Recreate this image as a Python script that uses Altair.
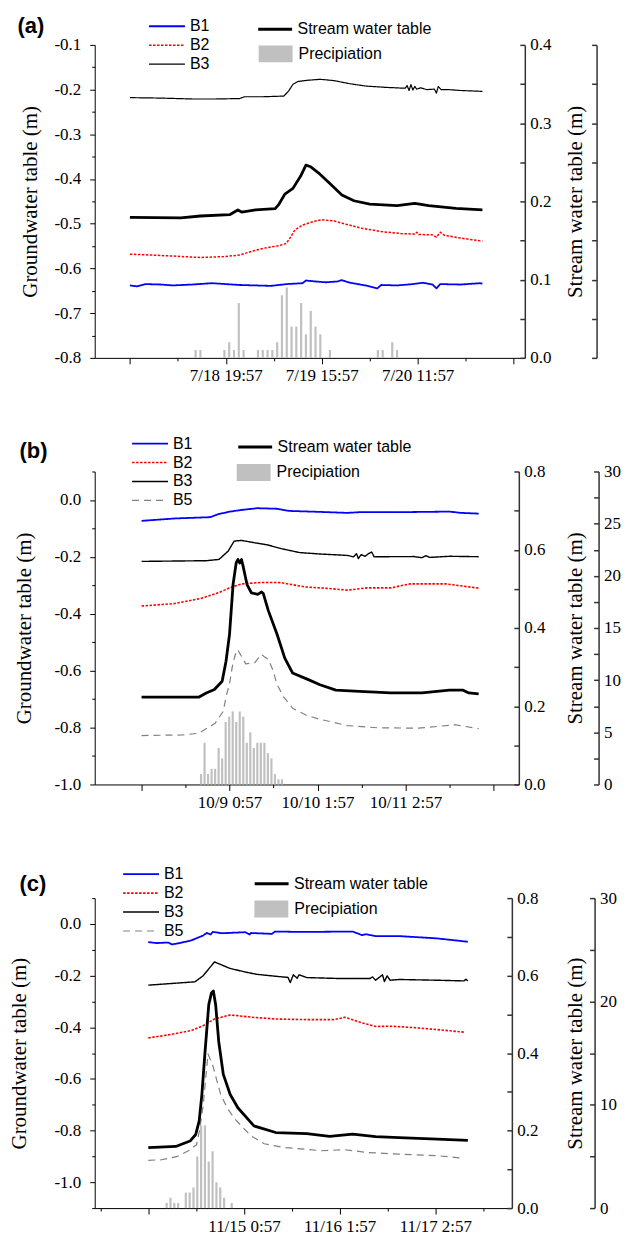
import altair as alt
import pandas as pd

SERIF = "Liberation Serif"
SANS = "Liberation Sans"
RIGHT_AXIS_COLOR = "#333333"

SERIES = ["B1", "B2", "B3", "B5"]
SERIES_COLORS = ["#0000ff", "#ff0000", "#000000", "#808080"]
SERIES_DASHES = [[1, 0], [2.5, 1.5], [1, 0], [7, 5]]
SERIES_WIDTHS = [1.8, 1.2, 1.1, 1.6]
STREAM_NAME = "Stream water table"
RAIN_NAME = "Precipiation"
GW_TITLE = "Groundwater table (m)"
STREAM_TITLE = "Stream water table (m)"
PANEL_LABELS = ["(a)", "(b)", "(c)"]

# ---------------- panel (a) : hours relative to 7/18 19:57 ----------------
A_X_LABEL_HOURS = [0, 20, 40]
A_X_LABELS = ["7/18 19:57", "7/19 15:57", "7/20 11:57"]
A_B1_H = [-20, -18.5, -16.8, -13.5, -11.1, -7.0, -2.9, 2.9, 9.4, 12.7, 16.0, 16.7, 18.5, 20.9,
          23.4, 24.1, 25.9, 29.1, 31.6, 32.4, 35.7, 39.0, 41.1, 43.1, 43.9, 44.7, 48.9, 53.0, 53.5]
A_B1_V = [-0.638, -0.640, -0.635, -0.636, -0.638, -0.636, -0.633, -0.637, -0.639, -0.635, -0.633,
          -0.627, -0.629, -0.631, -0.629, -0.626, -0.632, -0.638, -0.6445, -0.637, -0.638, -0.635,
          -0.632, -0.636, -0.6445, -0.635, -0.636, -0.633, -0.634]
A_B2_H = [-20, -13.5, -5.3, -0.4, 2.9, 5.3, 7.8, 11.1, 12.6, 13.5, 14.4, 16.0, 18.5, 20.1, 22.6,
          25.0, 28.3, 32.4, 36.5, 39.4, 39.8, 40.2, 43.1, 43.9, 44.7, 45.6, 48.9, 53.5]
A_B2_V = [-0.568, -0.571, -0.5755, -0.5735, -0.570, -0.562, -0.555, -0.549, -0.544, -0.530, -0.514,
          -0.503, -0.4945, -0.491, -0.494, -0.501, -0.510, -0.5175, -0.522, -0.523, -0.519, -0.524,
          -0.525, -0.530, -0.519, -0.526, -0.532, -0.539]
A_B3_H = [-20, -13.5, -7.0, -2.1, 2.9, 3.9, 7.8, 12.1, 13.1, 14.0, 15.0, 17.2, 19.7, 22.6, 25.9,
          29.1, 33.3, 37.4, 37.8, 38.2, 38.6, 39.0, 39.4, 39.8, 40.6, 41.9, 43.5, 43.9, 44.3, 44.9,
          46.4, 48.9, 53.5]
A_B3_V = [-0.218, -0.219, -0.221, -0.221, -0.220, -0.216, -0.216, -0.2145, -0.203, -0.188, -0.182,
          -0.179, -0.177, -0.180, -0.187, -0.192, -0.195, -0.197, -0.191, -0.202, -0.189, -0.201,
          -0.193, -0.199, -0.196, -0.200, -0.199, -0.208, -0.193, -0.200, -0.200, -0.202, -0.204]
A_STREAM_H = [-20, -9.4, -5.3, 0.8, 2.5, 3.3, 6.2, 10.3, 11.1, 12.3, 14.0, 15.6, 16.7, 17.7, 19.3,
              21.8, 24.2, 26.7, 30.0, 35.7, 39.4, 42.3, 48.0, 53.5]
A_STREAM_V = [0.1796, 0.1788, 0.1813, 0.183, 0.189, 0.1864, 0.189, 0.1907, 0.1966, 0.2093, 0.2166,
              0.2323, 0.2463, 0.2442, 0.2365, 0.2221, 0.2081, 0.2008, 0.1966, 0.1945, 0.1975,
              0.1945, 0.191, 0.189]
A_RAIN_H = [-6.3, -5.3, -0.3, 0.7, 1.7, 2.7, 3.7, 6.7, 7.7, 8.7, 9.7, 10.7, 11.7, 12.7, 13.7, 14.7,
            15.7, 16.7, 17.7, 18.7, 19.7, 21.7, 31.7, 32.7, 34.7, 35.7]
A_RAIN_V = [0.2, 0.2, 0.2, 0.4, 0.2, 1.4, 0.2, 0.2, 0.2, 0.2, 0.2, 0.4, 1.6, 1.8, 0.8, 0.8, 1.4, 0.6,
            1.2, 0.8, 0.6, 0.2, 0.2, 0.2, 0.4, 0.2]

# ---------------- panel (b) : hours relative to 10/9 0:57 ----------------
B_X_LABEL_HOURS = [0, 25, 50]
B_X_LABELS = ["10/9 0:57", "10/10 1:57", "10/11 2:57"]
B_B1_H = [-25, -15.5, -5.5, -3.2, 0.1, 3.5, 7.9, 13.5, 16.8, 25.7, 33.5, 36.9, 48.0, 62.5, 65.8, 70.8]
B_B1_V = [-0.0735, -0.065, -0.0606, -0.050, -0.041, -0.035, -0.029, -0.031, -0.0385, -0.042,
          -0.0455, -0.043, -0.043, -0.041, -0.0455, -0.048]
B_B2_H = [-25, -15.5, -7.8, -3.2, 0.7, 3.5, 9.0, 14.6, 21.3, 28.0, 33.5, 39.1, 45.8, 51.3, 61.4, 70.8]
B_B2_V = [-0.373, -0.364, -0.345, -0.3265, -0.3055, -0.295, -0.290, -0.2905, -0.3055, -0.311,
          -0.317, -0.309, -0.309, -0.295, -0.295, -0.310]
B_B3_H = [-25, -6.6, -3.0, -0.4, 1.3, 3.3, 6.9, 10.8, 14.3, 19.9, 25.7, 33.5, 35.2, 36.1, 36.6,
          37.4, 38.5, 39.6, 40.4, 41.1, 43.5, 52.4, 54.7, 55.8, 56.9, 62.5, 70.8]
B_B3_V = [-0.216, -0.2135, -0.209, -0.180, -0.145, -0.142, -0.150, -0.158, -0.170, -0.185, -0.190,
          -0.195, -0.200, -0.189, -0.206, -0.192, -0.198, -0.188, -0.183, -0.200, -0.1995, -0.199,
          -0.203, -0.196, -0.202, -0.198, -0.1995]
B_B5_H = [-25, -13.4, -8.7, -4.1, -1.8, -0.9, 0.0, 0.8, 1.6, 2.3, 3.4, 4.6, 7.2, 9.0, 11.0, 12.4,
          13.4, 15.3, 18.0, 21.7, 25.4, 33.5, 42.4, 53.6, 59.1, 64.1, 70.8]
B_B5_V = [-0.828, -0.826, -0.82, -0.785, -0.743, -0.687, -0.646, -0.585, -0.545, -0.526, -0.55,
          -0.576, -0.572, -0.543, -0.56, -0.60, -0.646, -0.691, -0.733, -0.756, -0.770, -0.793,
          -0.801, -0.802, -0.796, -0.790, -0.804]
B_STREAM_H = [-25, -8.8, -6.6, -4.3, -2.1, -1.0, 0.0, 1.0, 1.9, 2.4, 2.9, 3.4, 3.8, 5.0, 6.2, 8.0,
              9.1, 9.6, 11.0, 13.5, 15.7, 17.9, 22.4, 25.7, 30.2, 36.9, 45.8, 54.7, 62.5, 66.4,
              68.0, 70.8]
B_STREAM_V = [0.223, 0.223, 0.234, 0.2426, 0.264, 0.315, 0.384, 0.511, 0.567, 0.575, 0.566, 0.575,
              0.56, 0.51, 0.49, 0.486, 0.492, 0.488, 0.445, 0.384, 0.323, 0.285, 0.268, 0.255,
              0.241, 0.238, 0.234, 0.234, 0.241, 0.241, 0.234, 0.2315]
B_RAIN_H = [-8.1, -7.1, -6.1, -5.1, -4.1, -3.1, -2.1, -1.1, -0.1, 0.9, 1.9, 2.9, 3.9, 4.9, 5.9, 6.9,
            7.9, 8.9, 9.9, 10.9, 11.9, 12.9, 13.9, 14.9]
B_RAIN_V = [1.0, 4.0, 1.0, 1.5, 1.5, 3.5, 2.5, 6.0, 6.5, 7.0, 6.0, 7.0, 6.5, 4.0, 5.0, 3.5, 4.0, 4.0,
            4.0, 3.0, 2.5, 1.0, 0.5, 0.5]

# ---------------- panel (c) : hours relative to 11/15 0:57 ----------------
C_X_LABEL_HOURS = [0, 25, 50]
C_X_LABELS = ["11/15 0:57", "11/16 1:57", "11/17 2:57"]
C_B1_H = [-25.0, -22.8, -19.8, -18.8, -16.8, -13.8, -10.7, -9.7, -8.7, -8.2, -5.7, 0.3, 1.5, 1.8,
          7.3, 8.1, 15.4, 28.4, 30.9, 31.9, 34.4, 40.5, 50.5, 58.5]
C_B1_V = [-0.0705, -0.074, -0.072, -0.0795, -0.074, -0.064, -0.045, -0.0346, -0.041, -0.031,
          -0.036, -0.032, -0.041, -0.035, -0.0385, -0.0295, -0.031, -0.0295, -0.0436, -0.040,
          -0.047, -0.047, -0.056, -0.069]
C_B2_H = [-25.0, -19.8, -13.8, -10.7, -7.7, -3.7, -1.7, 2.3, 8.3, 16.4, 23.4, 26.4, 30.4, 34.4,
          38.4, 45.5, 50.5, 57.5]
C_B2_V = [-0.441, -0.4295, -0.413, -0.394, -0.368, -0.3526, -0.355, -0.3615, -0.368, -0.3705,
          -0.3705, -0.3615, -0.381, -0.397, -0.396, -0.4026, -0.409, -0.419]
C_B3_H = [-25.0, -12.8, -10.7, -7.7, -3.7, 0.3, 3.3, 8.3, 11.5, 12.1, 12.9, 13.9, 14.4, 16.4, 25.4,
          32.9, 33.6, 34.4, 36.2, 36.7, 37.4, 38.2, 40.5, 50.5, 57.5, 58.0, 58.5]
C_B3_V = [-0.237, -0.224, -0.201, -0.147, -0.172, -0.186, -0.195, -0.2026, -0.207, -0.227, -0.197,
          -0.210, -0.197, -0.2077, -0.2115, -0.2115, -0.205, -0.218, -0.197, -0.223, -0.201,
          -0.218, -0.215, -0.218, -0.2205, -0.214, -0.2205]
C_B5_H = [-25.0, -21.6, -17.4, -14.1, -12.4, -11.6, -10.7, -9.4, -8.2, -6.1, -4.3, -2.4, 1.8, 5.3,
          10.3, 20.4, 26.4, 32.4, 40.5, 50.5, 56.5]
C_B5_V = [-0.915, -0.913, -0.900, -0.875, -0.855, -0.798, -0.708, -0.503, -0.545, -0.66, -0.715,
          -0.755, -0.82, -0.851, -0.865, -0.878, -0.874, -0.885, -0.891, -0.897, -0.906]
C_STREAM_H = [-25.0, -17.8, -14.1, -12.6, -11.7, -11.0, -10.2, -9.2, -8.5, -8.0, -7.4, -6.6, -5.4,
              -3.6, -1.6, 2.6, 8.3, 16.4, 22.4, 28.4, 34.4, 40.5, 50.5, 58.5]
C_STREAM_V = [0.156, 0.159, 0.173, 0.19, 0.225, 0.293, 0.40, 0.525, 0.555, 0.560, 0.525, 0.43,
              0.345, 0.293, 0.259, 0.212, 0.195, 0.192, 0.185, 0.1906, 0.1845, 0.182, 0.178, 0.175]
C_RAIN_H = [-20.2, -19.2, -18.2, -17.2, -15.2, -14.2, -13.2, -12.2, -11.2, -10.2, -9.2, -8.2, -7.2,
            -6.2, -5.2, -3.2]
C_RAIN_V = [0.5, 1.0, 0.5, 0.5, 1.5, 1.5, 2.0, 5.0, 8.0, 8.0, 4.5, 5.5, 2.5, 2.0, 1.0, 0.5]

MINUS = "\u2212"
LINE_SYMBOL = "M-2,0H2"
BOX_SYMBOL = "M-1,-0.5H1V0.5H-1Z"


def num_label(test, fmt):
    return f"({test}) ? replace(format(datum.value, '{fmt}'), '{MINUS}', '-') : ''"


def x_label_expr(hours, labels):
    expr = "''"
    for h, lab in reversed(list(zip(hours, labels))):
        expr = f"datum.value == {h} ? '{lab}' : {expr}"
    return expr


def tick_cond(test, major, minor):
    return {"condition": {"test": test, "value": major}, "value": minor}


def make_panel(p):
    W, H = p["width"], p["height"]
    present = [s for s, _, _ in p["gw"]]
    idx = [SERIES.index(s) for s in present]
    gw = pd.concat(
        [pd.DataFrame({"h": hs, "v": vs, "series": s}) for s, hs, vs in p["gw"]],
        ignore_index=True,
    )
    stream = pd.DataFrame({"h": p["stream_h"], "s": p["stream_v"], "name": STREAM_NAME})
    rain = pd.DataFrame({"h": p["rain_h"], "p": p["rain_v"], "name": RAIN_NAME})
    lab = pd.DataFrame({"label": [p["label"]]})

    x_axis = alt.Axis(
        values=p["x_ticks"],
        labelExpr=x_label_expr(p["x_label_hours"], p["x_labels"]),
        tickSize=tick_cond(f"abs(datum.value) % {p['x_major']} == 0", 6, 3),
        labelFont=SERIF, labelFontSize=17, labelPadding=4, labelColor="black",
        labelOverlap=False, labelFlush=False,
        domainColor="black", tickColor="black", title=None,
    )
    x_enc = alt.X("h:Q", scale=alt.Scale(domain=p["x_domain"], nice=False, zero=False), axis=x_axis)

    rain_axis_kw = dict(
        orient="left", offset=-(W + p["rain_gap"]), values=p["rain_ticks"],
        tickSize=5, labelPadding=-10, labelAlign="left", labelFont=SERIF, labelFontSize=17,
        labelColor="black", labelOverlap=False, labelFlush=False,
        domainColor=RIGHT_AXIS_COLOR, tickColor=RIGHT_AXIS_COLOR, domainWidth=1.5, tickWidth=1.5,
        title=None, labels=p["rain_show_labels"],
    )
    if p["rain_show_labels"]:
        rain_axis_kw["labelExpr"] = num_label(p["rain_label_test"], "d")
    rain_layer = alt.Chart(rain).mark_bar(size=2.2).encode(
        x=x_enc,
        y=alt.Y("p:Q", scale=alt.Scale(domain=p["rain_domain"], nice=False, zero=True),
                axis=alt.Axis(**rain_axis_kw)),
        fill=alt.Fill("name:N", scale=alt.Scale(domain=[RAIN_NAME], range=["#c0c0c0"]),
                      legend=alt.Legend(title=None, orient="none", legendX=p["rain_leg"][0],
                                        legendY=p["rain_leg"][1], symbolType=BOX_SYMBOL,
                                        symbolSize=1156, symbolStrokeWidth=0, padding=0,
                                        labelFont=SANS, labelFontSize=16, labelColor="black",
                                        labelOffset=6)),
    )

    series_legend = alt.Legend(
        title=None, orient="none", legendX=p["series_leg"][0], legendY=p["series_leg"][1],
        symbolType=LINE_SYMBOL, symbolSize=324, rowPadding=1, padding=0,
        labelFont=SANS, labelFontSize=16, labelColor="black", labelOffset=13,
    )
    gw_layer = alt.Chart(gw).mark_line(strokeJoin="round").encode(
        x=x_enc,
        y=alt.Y("v:Q", scale=alt.Scale(domain=p["gw_domain"], nice=False, zero=False),
                axis=alt.Axis(
                    orient="left", values=p["gw_ticks"],
                    labelExpr=num_label(p["gw_label_test"], ".1f"),
                    tickSize=tick_cond(p["gw_label_test"], 5, 3),
                    labelFont=SERIF, labelFontSize=17, labelPadding=9, labelColor="black",
                    labelOverlap=False, labelFlush=False,
                    domainColor="black", tickColor="black",
                    title=GW_TITLE, titleX=p["gw_title_x"], titleY=H / 2, titleAngle=270,
                    titleAlign="center", titleBaseline="middle", titleFont=SERIF,
                    titleFontSize=21, titleFontWeight="normal", titleColor="black")),
        color=alt.Color("series:N", scale=alt.Scale(domain=present, range=[SERIES_COLORS[i] for i in idx]),
                        legend=series_legend),
        strokeDash=alt.StrokeDash("series:N", scale=alt.Scale(domain=present, range=[SERIES_DASHES[i] for i in idx]),
                                  legend=series_legend),
        strokeWidth=alt.StrokeWidth("series:N", scale=alt.Scale(domain=present, range=[SERIES_WIDTHS[i] for i in idx]),
                                    legend=series_legend),
    )

    stream_layer = alt.Chart(stream).mark_line(strokeWidth=2.8, strokeJoin="round").encode(
        x=x_enc,
        y=alt.Y("s:Q", scale=alt.Scale(domain=p["stream_domain"], nice=False, zero=True),
                axis=alt.Axis(
                    orient="left", offset=-W, values=p["stream_ticks"],
                    labelExpr=num_label(p["stream_label_test"], ".1f"),
                    tickSize=5, labelPadding=-10, labelAlign="left",
                    labelFont=SERIF, labelFontSize=17, labelColor="black",
                    labelOverlap=False, labelFlush=False,
                    domainColor=RIGHT_AXIS_COLOR, tickColor=RIGHT_AXIS_COLOR,
                    domainWidth=1.5, tickWidth=1.5,
                    title=STREAM_TITLE, titleX=p["stream_title_x"], titleY=H / 2, titleAngle=270,
                    titleAlign="center", titleBaseline="middle", titleFont=SERIF,
                    titleFontSize=21, titleFontWeight="normal", titleColor="black")),
        stroke=alt.Stroke("name:N", scale=alt.Scale(domain=[STREAM_NAME], range=["#000000"]),
                          legend=alt.Legend(title=None, orient="none", legendX=p["stream_leg"][0],
                                            legendY=p["stream_leg"][1], symbolType=LINE_SYMBOL,
                                            symbolSize=289, symbolStrokeWidth=3, padding=0,
                                            labelFont=SANS, labelFontSize=16, labelColor="black",
                                            labelOffset=12.5)),
    )

    label_layer = alt.Chart(lab).mark_text(
        font=SANS, fontSize=22, fontWeight="bold", align="left", baseline="middle", color="black"
    ).encode(text="label:N", x=alt.value(p["label_pos"][0]), y=alt.value(p["label_pos"][1]))

    return (
        alt.layer(rain_layer, gw_layer, stream_layer, label_layer)
        .resolve_scale(y="independent")
        .properties(width=W, height=H)
    )


PANEL_A = dict(
    label=PANEL_LABELS[0], width=431.5, height=314,
    x_domain=[-26.3, 61.3], x_ticks=[-20, -10, 0, 10, 20, 30, 40, 50, 60], x_major=20,
    x_label_hours=A_X_LABEL_HOURS, x_labels=A_X_LABELS,
    gw=[("B1", A_B1_H, A_B1_V), ("B2", A_B2_H, A_B2_V), ("B3", A_B3_H, A_B3_V)],
    gw_domain=[-0.8, -0.1], gw_ticks=[round(-0.8 + 0.05 * i, 2) for i in range(15)],
    gw_label_test="abs(round(datum.value*20)) % 2 == 0", gw_title_x=-64.5,
    stream_h=A_STREAM_H, stream_v=A_STREAM_V, stream_domain=[0, 0.4],
    stream_ticks=[round(0.05 * i, 2) for i in range(9)],
    stream_label_test="abs(round(datum.value*20)) % 2 == 0", stream_title_x=51,
    rain_h=A_RAIN_H, rain_v=A_RAIN_V, rain_domain=[0, 8], rain_ticks=list(range(9)),
    rain_show_labels=False, rain_label_test="true", rain_gap=72,
    series_leg=(62.5, -28.7), stream_leg=(171, -25.8), rain_leg=(164.5, -8), label_pos=(-77.5, -19),
)

PANEL_B = dict(
    label=PANEL_LABELS[1], width=425.5, height=314,
    x_domain=[-36.9, 80.8], x_ticks=[-25, -12.5, 0, 12.5, 25, 37.5, 50, 62.5, 75], x_major=25,
    x_label_hours=B_X_LABEL_HOURS, x_labels=B_X_LABELS,
    gw=[("B1", B_B1_H, B_B1_V), ("B2", B_B2_H, B_B2_V), ("B3", B_B3_H, B_B3_V), ("B5", B_B5_H, B_B5_V)],
    gw_domain=[-1.0, 0.1], gw_ticks=[round(-1.0 + 0.1 * i, 1) for i in range(12)],
    gw_label_test="abs(round(datum.value*10)) % 2 == 0", gw_title_x=-70.5,
    stream_h=B_STREAM_H, stream_v=B_STREAM_V, stream_domain=[0, 0.8],
    stream_ticks=[round(0.1 * i, 1) for i in range(9)],
    stream_label_test="abs(round(datum.value*10)) % 2 == 0", stream_title_x=57,
    rain_h=B_RAIN_H, rain_v=B_RAIN_V, rain_domain=[0, 30], rain_ticks=[2.5 * i for i in range(13)],
    rain_show_labels=True, rain_label_test="round(datum.value*2) % 2 == 0", rain_gap=80,
    series_leg=(45.5, -38), stream_leg=(151, -34.5), rain_leg=(142.5, -16), label_pos=(-75.5, -21),
)

PANEL_C = dict(
    label=PANEL_LABELS[2], width=418.5, height=311,
    x_domain=[-37.7, 68.7], x_ticks=[-37.5, -25, -12.5, 0, 12.5, 25, 37.5, 50, 62.5], x_major=25,
    x_label_hours=C_X_LABEL_HOURS, x_labels=C_X_LABELS,
    gw=[("B1", C_B1_H, C_B1_V), ("B2", C_B2_H, C_B2_V), ("B3", C_B3_H, C_B3_V), ("B5", C_B5_H, C_B5_V)],
    gw_domain=[-1.1, 0.1], gw_ticks=[round(-1.1 + 0.1 * i, 1) for i in range(13)],
    gw_label_test="abs(round(datum.value*10)) % 2 == 0", gw_title_x=-75,
    stream_h=C_STREAM_H, stream_v=C_STREAM_V, stream_domain=[0, 0.8],
    stream_ticks=[round(0.1 * i, 1) for i in range(9)],
    stream_label_test="abs(round(datum.value*10)) % 2 == 0", stream_title_x=64,
    rain_h=C_RAIN_H, rain_v=C_RAIN_V, rain_domain=[0, 30], rain_ticks=[5 * i for i in range(7)],
    rain_show_labels=True, rain_label_test="round(datum.value/5) % 2 == 0", rain_gap=83,
    series_leg=(36.5, -34), stream_leg=(167.5, -24.5), rain_leg=(160.2, -6), label_pos=(-75.5, -14),
)

chart = (
    alt.vconcat(make_panel(PANEL_A), make_panel(PANEL_B), make_panel(PANEL_C), spacing=114, bounds="flush")
    .resolve_scale(color="independent", strokeDash="independent", strokeWidth="independent",
                   stroke="independent", fill="independent")
    .resolve_legend(color="independent", strokeDash="independent", strokeWidth="independent",
                    stroke="independent", fill="independent")
    .properties(padding={"left": 1, "top": 5, "right": 0, "bottom": 0})
    .configure_view(strokeOpacity=0)
    .configure_axis(grid=False, labelFont=SERIF, titleFont=SERIF)
)

chart.save("out.html", embed_options={"renderer": "svg", "actions": False})
